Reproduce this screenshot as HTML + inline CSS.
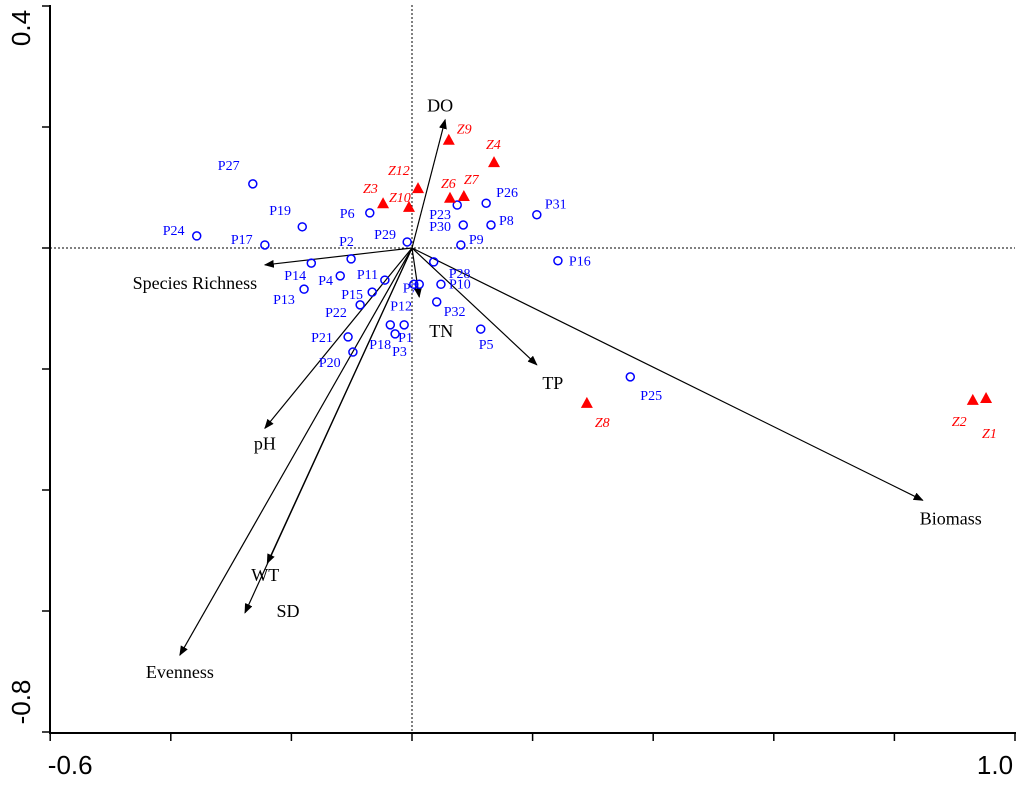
<!DOCTYPE html>
<html><head><meta charset="utf-8"><style>
body{margin:0;background:#fff;}
svg text{font-family:"Liberation Serif",serif;}
</style></head><body>
<svg id="chart" width="1024" height="781" xmlns="http://www.w3.org/2000/svg">
<defs><marker id="ah" markerWidth="10" markerHeight="8" refX="9" refY="4" orient="auto" markerUnits="userSpaceOnUse"><path d="M0,0 L10,4 L0,8 z" fill="#000"/></marker></defs>
<g id="axes"></g><g id="arrows"></g><g id="sites"></g><g id="samples"></g>
</svg>
<script>
const siteNames=["P27","P19","P24","P17","P6","P2","P29","P23","P26","P31","P30","P8","P9","P28","P16","P14","P4","P11","P13","P7","P10","P15","P22","P12","P32","P21","P18","P1","P3","P20","P5","P25"];
const siteX=[-0.264,-0.182,-0.357,-0.244,-0.070,-0.101,-0.008,0.075,0.123,0.207,0.085,0.131,0.081,0.036,0.242,-0.167,-0.119,-0.045,-0.179,0.003,0.048,-0.066,-0.086,0.012,0.041,-0.106,-0.036,-0.013,-0.028,-0.098,0.114,0.362];
const siteY=[0.106,0.035,0.020,0.005,0.058,-0.018,0.010,0.071,0.074,0.055,0.038,0.038,0.005,-0.023,-0.021,-0.025,-0.046,-0.053,-0.068,-0.060,-0.060,-0.073,-0.094,-0.060,-0.089,-0.147,-0.127,-0.127,-0.142,-0.172,-0.134,-0.213];
const siteLabelOff=[[-35,-14],[-33,-12],[-34,-1],[-34,-1],[-30,5],[-12,-13],[-33,-3],[-28,14],[10,-6],[8,-6],[-34,6],[8,0],[8,-1],[15,16],[11,5],[-27,17],[-22,9],[-28,-1],[-31,15],[-11,8],[8,4],[-31,7],[-35,12],[-29,26],[7,14],[-37,5],[-21,24],[-6,17],[-3,22],[-34,15],[-2,20],[10,23]];
const zNames=["Z9","Z4","Z12","Z3","Z10","Z6","Z7","Z8","Z2","Z1"];
const zX=[0.061,0.136,0.010,-0.048,-0.005,0.063,0.086,0.290,0.930,0.952];
const zY=[0.179,0.142,0.099,0.074,0.068,0.083,0.086,-0.256,-0.251,-0.248];
const zLabelOff=[[8,-6],[-8,-13],[-30,-13],[-20,-10],[-20,-5],[-9,-10],[0,-12],[8,24],[-21,26],[-4,40]];
const envNames=["DO","Species Richness","TN","TP","Biomass","pH","WT","SD","Evenness"];
const envX=[0.055,-0.244,0.012,0.207,0.847,-0.244,-0.240,-0.277,-0.385];
const envY=[0.212,-0.028,-0.081,-0.193,-0.417,-0.298,-0.521,-0.603,-0.673];
const envLabelOff=[[-5,-8],[-70,24],[22,40],[16,24],[28,24],[0,21],[-2,18],[43,4],[0,23]];
const xTicks=[-0.6,-0.4,-0.2,0,0.2,0.4,0.6,0.8,1.0];
const yTicks=[0.4,0.2,0,-0.2,-0.4,-0.6,-0.8];
const xTickLabels=["-0.6","1.0"];
const yTickLabels=["0.4","-0.8"];
const X=v=>412+v*603, Y=v=>248-v*605;
const NS="http://www.w3.org/2000/svg";
function mk(p,t,a){const e=document.createElementNS(NS,t);for(const k in a)e.setAttribute(k,a[k]);p.appendChild(e);return e;}
const ax=document.getElementById('axes');
let e;
e=mk(ax,'line',{x1:50,y1:5,x2:50,y2:733,stroke:'#000','stroke-width':2});

e=mk(ax,'line',{x1:49,y1:733,x2:1016,y2:733,stroke:'#000','stroke-width':2});

e=mk(ax,'line',{x1:X(0),y1:5,x2:X(0),y2:733,stroke:'#000','stroke-width':1,'stroke-dasharray':'2,2'});

e=mk(ax,'line',{x1:50,y1:Y(0),x2:1015,y2:Y(0),stroke:'#000','stroke-width':1,'stroke-dasharray':'2,2'});

xTicks.forEach(v=>{e=mk(ax,'line',{x1:X(v),y1:733,x2:X(v),y2:741,stroke:'#000','stroke-width':1.5});
});
yTicks.forEach(v=>{e=mk(ax,'line',{x1:42,y1:Y(v),x2:50,y2:Y(v),stroke:'#000','stroke-width':1.5});
});
e=mk(ax,'text',{x:X(-0.6)+20,y:774,'font-size':26,'text-anchor':'middle',style:'font-family:"Liberation Sans",sans-serif'});e.textContent=xTickLabels[0];

e=mk(ax,'text',{x:X(1.0)-20,y:774,'font-size':26,'text-anchor':'middle',style:'font-family:"Liberation Sans",sans-serif'});e.textContent=xTickLabels[1];

e=mk(ax,'text',{x:0,y:0,'font-size':26,'text-anchor':'middle',transform:`translate(30,${Y(0.4)+22}) rotate(-90)`,style:'font-family:"Liberation Sans",sans-serif'});e.textContent=yTickLabels[0];

e=mk(ax,'text',{x:0,y:0,'font-size':26,'text-anchor':'middle',transform:`translate(30,${Y(-0.8)-30}) rotate(-90)`,style:'font-family:"Liberation Sans",sans-serif'});e.textContent=yTickLabels[1];

const ar=document.getElementById('arrows');
envNames.forEach((n,i)=>{
 e=mk(ar,'line',{x1:X(0),y1:Y(0),x2:X(envX[i]),y2:Y(envY[i]),stroke:'#000','stroke-width':1.2,'marker-end':'url(#ah)'});
 
 
 e=mk(ar,'text',{x:X(envX[i])+envLabelOff[i][0],y:Y(envY[i])+envLabelOff[i][1],'font-size':18,'text-anchor':'middle'});
 e.textContent=n;
 
 
});
const st=document.getElementById('sites');
siteNames.forEach((n,i)=>{
 e=mk(st,'circle',{cx:X(siteX[i]),cy:Y(siteY[i]),r:4,fill:'none',stroke:'#0000ff','stroke-width':1.5});
 
 
 e=mk(st,'text',{x:X(siteX[i])+siteLabelOff[i][0],y:Y(siteY[i])+siteLabelOff[i][1],'font-size':14,fill:'#0000ff'});
 e.textContent=n;
 
 
});
const sm=document.getElementById('samples');
zNames.forEach((n,i)=>{
 const cx=X(zX[i]),cy=Y(zY[i]);
 e=mk(sm,'polygon',{points:`${cx},${cy-6} ${cx-6},${cy+5} ${cx+6},${cy+5}`,fill:'#ff0000'});
 
 
 e=mk(sm,'text',{x:cx+zLabelOff[i][0],y:cy+zLabelOff[i][1],'font-size':14,fill:'#ff0000','font-style':'italic'});
 e.textContent=n;
 
 
});
</script>
</body></html>
